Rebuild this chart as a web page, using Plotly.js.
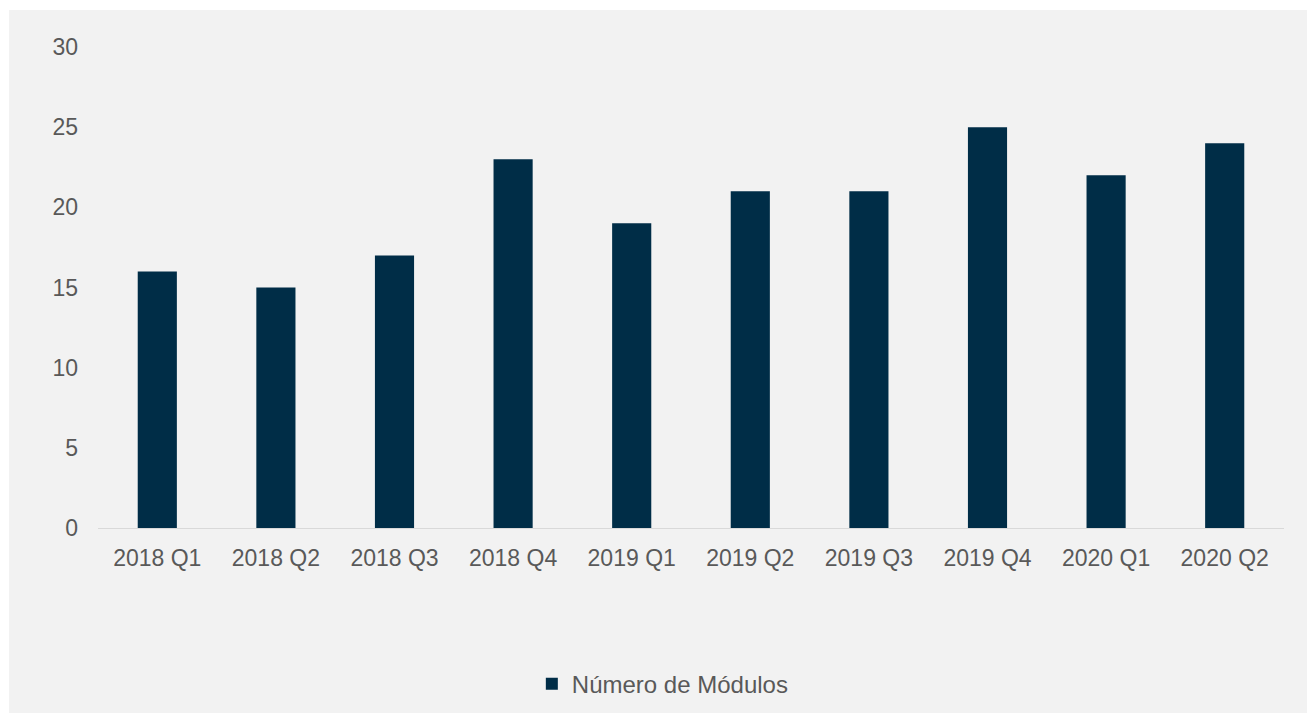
<!DOCTYPE html>
<html>
<head>
<meta charset="utf-8">
<script src="https://cdn.plot.ly/plotly-3.0.1.min.js"></script>
<style>
  html, body { margin: 0; padding: 0; background: #ffffff; }
  #chart { position: absolute; left: 9px; top: 10px; width: 1298px; height: 703px; }
</style>
</head>
<body>
<div id="chart"></div>
<script>
const categories = ["2018 Q1", "2018 Q2", "2018 Q3", "2018 Q4", "2019 Q1", "2019 Q2", "2019 Q3", "2019 Q4", "2020 Q1", "2020 Q2"];
const seriesName = "Número de Módulos";
const values = [16, 15, 17, 23, 19, 21, 21, 25, 22, 24];
const yTicks = [0, 5, 10, 15, 20, 25, 30];

const textColor = "#595959";
const font = { family: "Liberation Sans, Arial, sans-serif", size: 23, color: textColor };
const legendFont = { family: "Liberation Sans, Arial, sans-serif", size: 24, color: textColor };

const trace = {
  type: "bar",
  x: categories,
  y: values,
  name: seriesName,
  marker: { color: "#002d47" },
  width: 0.33,
  showlegend: true,
  hoverinfo: "x+y"
};

const layout = {
  width: 1298,
  height: 703,
  paper_bgcolor: "#f2f2f2",
  plot_bgcolor: "#f2f2f2",
  font: font,
  margin: { l: 89, r: 23, t: 37, b: 185 },
  showlegend: true,
  legend: {
    orientation: "h",
    xref: "container",
    yref: "container",
    x: 0.4028,
    xanchor: "left",
    y: 0.041,
    yanchor: "middle",
    font: legendFont,
    bgcolor: "rgba(0,0,0,0)"
  },
  xaxis: {
    type: "category",
    showgrid: false,
    showline: true,
    linecolor: "#d9d9d9",
    linewidth: 1,
    ticks: "",
    tickfont: font,
    ticklabelstandoff: 9,
    zeroline: false
  },
  yaxis: {
    range: [0, 30],
    tickvals: yTicks,
    showgrid: false,
    showline: false,
    zeroline: false,
    ticks: "",
    tickfont: font,
    ticklabelstandoff: 19
  },
  bargap: 0.67
};

Plotly.newPlot("chart", [trace], layout, { displayModeBar: false, staticPlot: false });
</script>
</body>
</html>
